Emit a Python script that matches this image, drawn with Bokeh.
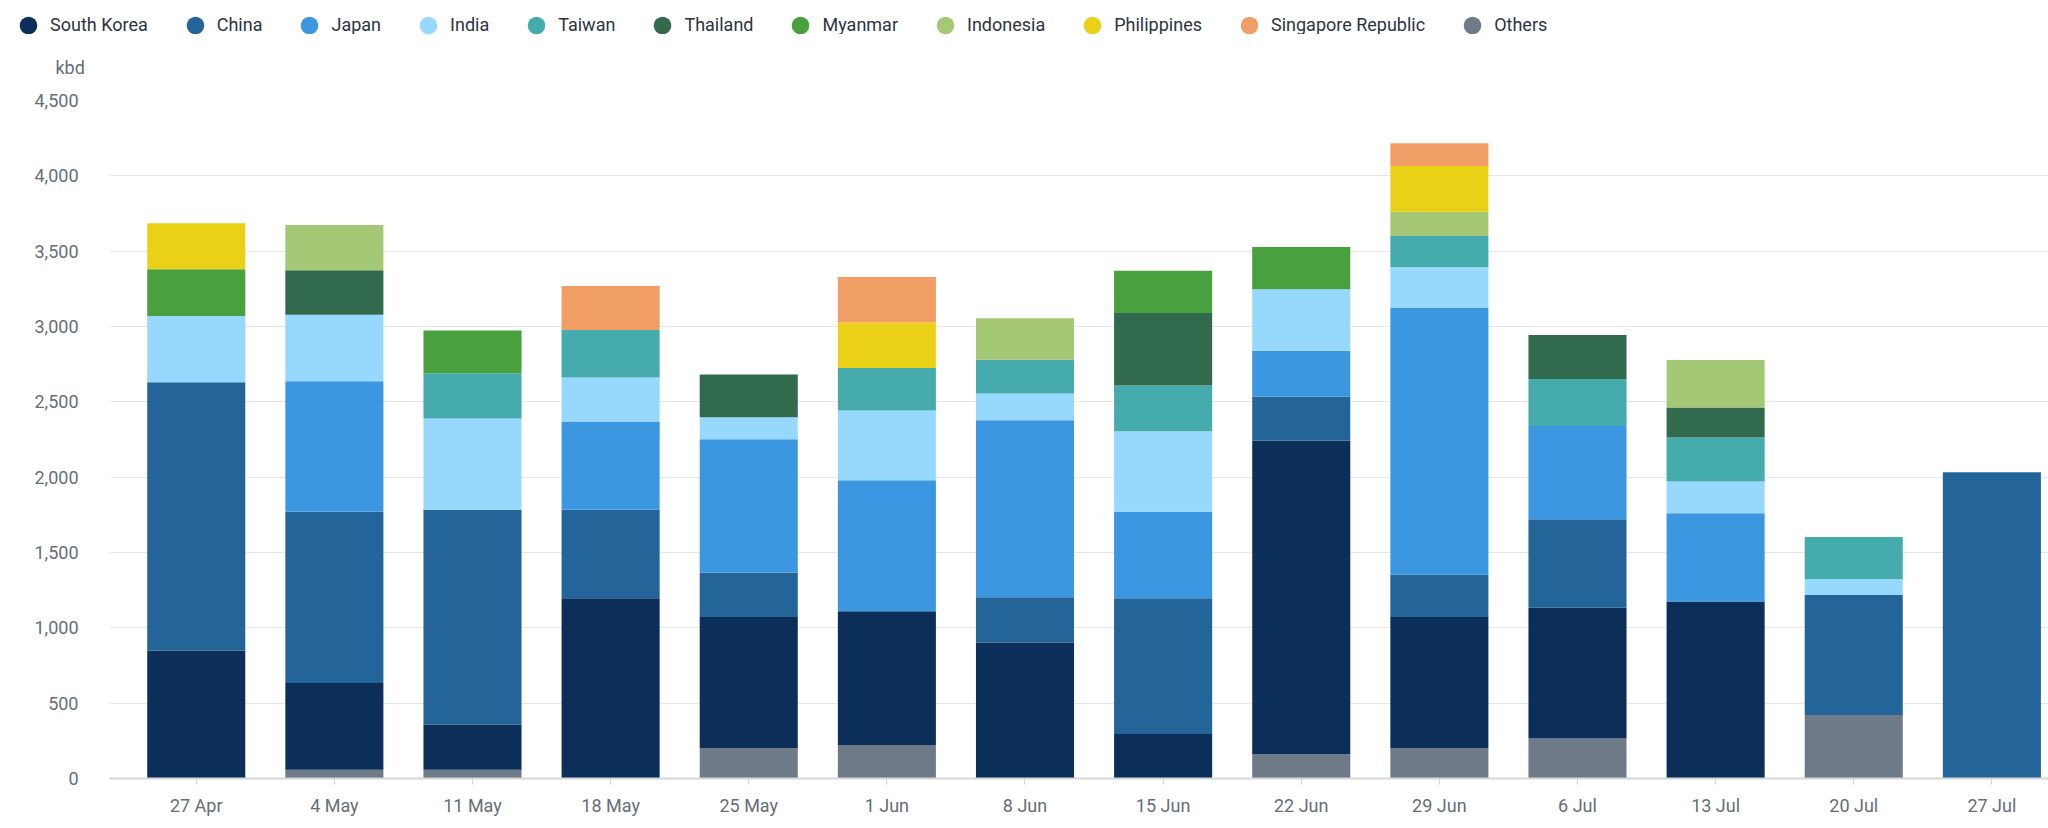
from bokeh.plotting import figure
from bokeh.layouts import column
from bokeh.models import (ColumnDataSource, Legend, LegendItem, Title, FixedTicker,
                          NumeralTickFormatter, Range1d)
from bokeh.embed import file_html
from bokeh.resources import INLINE

# Weekly crude arrivals by origin, kbd
weeks = ["27 Apr", "4 May", "11 May", "18 May", "25 May", "1 Jun", "8 Jun",
         "15 Jun", "22 Jun", "29 Jun", "6 Jul", "13 Jul", "20 Jul", "27 Jul"]

others      = [0,    58,   58,   0,    202, 222, 0,    0,   161,  202,  266, 0,    421, 0]
south_korea = [850,  576,  301,  1197, 870, 888, 902,  295, 2082, 870,  867, 1174, 0,   0]
china       = [1780, 1136, 1425, 587,  295, 0,   301,  902, 292,  280,  587, 0,    797, 2033]
japan       = [0,    867,  0,    585,  885, 870, 1174, 573, 304,  1770, 619, 587,  0,   0]
india       = [440,  441,  605,  292,  146, 462, 179,  534, 409,  272,  0,   210,  105, 0]
taiwan      = [0,    0,    301,  315,  0,   283, 224,  304, 0,    207,  313, 292,  280, 0]
thailand    = [0,    295,  0,    0,    283, 0,   0,    482, 0,    0,    292, 199,  0,   0]
myanmar     = [310,  0,    283,  0,    0,   0,   0,    280, 280,  0,    0,   0,    0,   0]
indonesia   = [0,    301,  0,    0,    0,   0,   275,  0,   0,    161,  0,   316,  0,   0]
philippines = [305,  0,    0,    0,    0,   301, 0,    0,   0,    303,  0,   0,    0,   0]
singapore   = [0,    0,    0,    292,  0,   303, 0,    0,   0,    152,  0,   0,    0,   0]

series_names = ["South Korea", "China", "Japan", "India", "Taiwan", "Thailand",
                "Myanmar", "Indonesia", "Philippines", "Singapore Republic", "Others"]
series_values = [south_korea, china, japan, india, taiwan, thailand,
                 myanmar, indonesia, philippines, singapore, others]
series_colors = ["#0c2f5a", "#236499", "#3b97e0", "#97d9fe", "#45abad", "#316a4c",
                 "#48a03e", "#a4c875", "#ebd018", "#f19d66", "#6e7a88"]

# stacking order: Others at the bottom, then the named origins
stack_order = [10, 0, 1, 2, 3, 4, 5, 6, 7, 8, 9]

xs = list(range(len(weeks)))
data = {"x": xs}
keys = []
for i, vals in enumerate(series_values):
    key = f"s{i}"
    data[key] = vals
    keys.append(key)
source = ColumnDataSource(data)

FONT = "Roboto"
GREY_TXT = "#666e78"
LEGEND_H = 34
PLOT_LEFT = 109

# ---- legend strip -------------------------------------------------------
leg_fig = figure(width=2048, height=LEGEND_H, output_backend="svg", toolbar_location=None,
                 x_axis_type=None, y_axis_type=None, x_range=Range1d(0, 1),
                 y_range=Range1d(0, 1), min_border=0, outline_line_color=None)
leg_fig.grid.grid_line_color = None

# keep the strip's frame spanning its full width instead of lining up with the chart
frame_free = "frame_align" in leg_fig.properties()
if frame_free:
    leg_fig.frame_align = False
legend_x = 6 if frame_free else 6 - PLOT_LEFT

nan = float("nan")
items = []
for name, color in zip(series_names, series_colors):
    # round swatch only; the renderer holds no drawable point
    r = leg_fig.scatter(x=[nan], y=[nan], marker="circle", size=18,
                        fill_color=color, line_color=None)
    items.append(LegendItem(label=name, renderers=[r]))
legend = Legend(items=items, orientation="horizontal", glyph_width=44, glyph_height=44,
                label_standoff=0, spacing=25, padding=0, margin=0,
                location=(legend_x, -12.5),
                label_text_font=FONT, label_text_font_size="18px",
                label_text_color="#2b3441", border_line_color=None,
                background_fill_alpha=0)
leg_fig.add_layout(legend, "center")

# ---- stacked columns ----------------------------------------------------
p = figure(width=2048, height=828 - LEGEND_H, output_backend="svg", toolbar_location=None,
           x_range=Range1d(-0.628, 13.41), y_range=Range1d(0, 4500),
           min_border_left=PLOT_LEFT, min_border_right=0, min_border_top=100 - LEGEND_H,
           min_border_bottom=50, outline_line_color=None)
if frame_free:
    p.frame_align = False

p.vbar_stack([keys[i] for i in stack_order], x="x", width=0.71, source=source,
             color=[series_colors[i] for i in stack_order], line_color=None)

p.xaxis.ticker = FixedTicker(ticks=xs)
p.xaxis.major_label_overrides = {i: w for i, w in enumerate(weeks)}
p.xaxis.axis_line_color = "#d6d6d6"
p.xaxis.axis_line_width = 2
p.xaxis.major_tick_line_color = "#d6d6d6"
p.xaxis.major_tick_in = 0
p.xaxis.major_tick_out = 6
p.xaxis.minor_tick_line_color = None
p.xaxis.major_label_standoff = 10
p.xaxis.major_label_text_font = FONT
p.xaxis.major_label_text_font_size = "18px"
p.xaxis.major_label_text_color = GREY_TXT

p.yaxis.ticker = FixedTicker(ticks=list(range(0, 4501, 500)))
p.yaxis.formatter = NumeralTickFormatter(format="0,0")
p.yaxis.axis_line_color = None
p.yaxis.major_tick_line_color = None
p.yaxis.minor_tick_line_color = None
p.yaxis.major_label_standoff = 25
p.yaxis.major_label_text_font = FONT
p.yaxis.major_label_text_font_size = "18px"
p.yaxis.major_label_text_color = GREY_TXT

p.xgrid.grid_line_color = None
p.ygrid.grid_line_color = "#e6e6e6"
p.ygrid.grid_line_width = 1

# unit caption above the value axis
unit = Title(text="kbd", align="left", offset=-54, standoff=43, vertical_align="middle",
             text_font=FONT, text_font_size="18px", text_font_style="normal",
             text_color=GREY_TXT)
p.add_layout(unit, "above")

layout = column(leg_fig, p, spacing=0)
open("out.html", "w").write(file_html(layout, INLINE))
